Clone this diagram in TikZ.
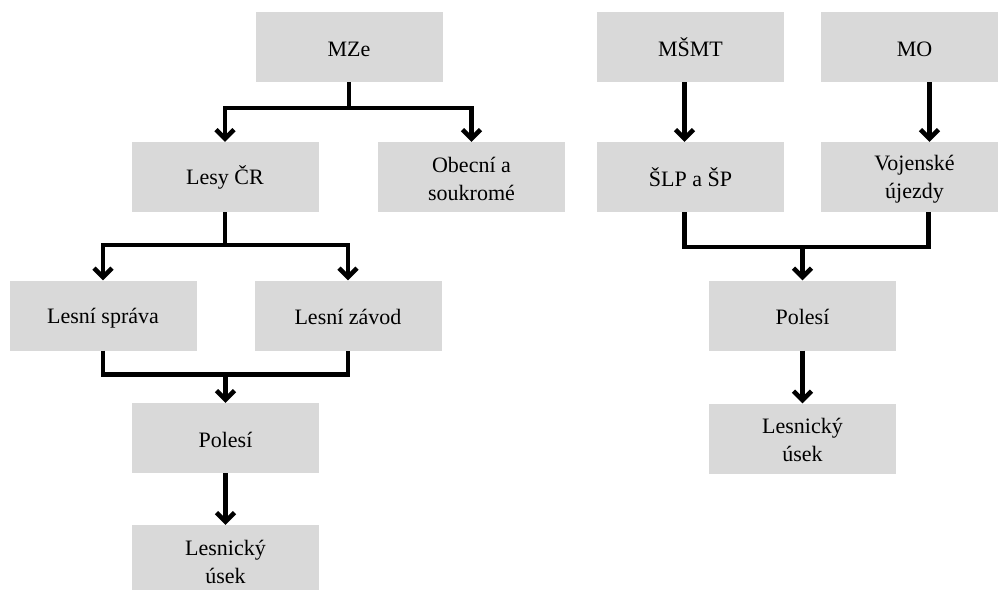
\documentclass[tikz,border=0pt]{standalone}
\usepackage{fontspec}
\setmainfont{Liberation Serif}
\usetikzlibrary{arrows.meta}
\definecolor{boxgray}{RGB}{217,217,217}
\newcommand\bxs{\vrule height 20pt depth 2pt width 0pt}
\begin{document}
\begin{tikzpicture}[x=1pt,y=-1pt,
  box/.style={fill=boxgray, draw=none, minimum width=187pt, minimum height=70pt,
    inner sep=0pt, align=center, font=\fontsize{22}{28}\selectfont},
  conn/.style={line width=4.5pt, line join=miter},
  arr/.style={conn, -{Straight Barb[length=9pt,width=18pt]}}]
\useasboundingbox (0,0) rectangle (998,589);
\fill[white] (0,0) rectangle (998,589);
% left tree
\node[box] (mze) at (349,47) {\bxs MZe};
\node[box] (lesy) at (225,177) {\bxs Lesy ČR};
\node[box] (obec) at (471.5,177) {\bxs Obecní a\\\bxs soukromé};
\node[box] (sprava) at (103,315.5) {\bxs Lesní správa};
\node[box] (zavod) at (348,315.5) {\bxs Lesní závod};
\node[box] (polL) at (225.5,438) {\bxs Polesí};
\node[box] (usekL) at (225.5,560) {\bxs Lesnický\\\bxs úsek};
% right tree
\node[box] (msmt) at (690.5,47) {\bxs MŠMT};
\node[box] (mo) at (914.5,47) {\bxs MO};
\node[box] (slp) at (690.5,177) {\bxs ŠLP a ŠP};
\node[box] (voj) at (914.5,177) {\bxs Vojenské\\\bxs újezdy};
\node[box] (polR) at (802.5,315.5) {\bxs Polesí};
\node[box] (usekR) at (802.5,438.5) {\bxs Lesnický\\\bxs úsek};
% left connectors
\draw[conn] (mze.south) -- ++(0,26) coordinate (j1);
\draw[arr] (j1) -| (lesy.north);
\draw[arr] (j1) -| (obec.north);
\draw[conn] (lesy.south) -- ++(0,33) coordinate (j2);
\draw[arr] (j2) -| (sprava.north);
\draw[arr] (j2) -| (zavod.north);
\draw[conn] (sprava.south) -- ++(0,24) coordinate (m1) -| (zavod.south);
\draw[arr] (m1 -| polL.north) -- (polL.north);
\draw[arr] (polL.south) -- (usekL.north);
% right connectors
\draw[arr] ([xshift=-6pt]msmt.south) -- ([xshift=-6pt]slp.north);
\draw[arr] ([xshift=15pt]mo.south) -- ([xshift=15pt]voj.north);
\draw[conn] ([xshift=-6pt]slp.south) -- ++(0,35) coordinate (m2) -| ([xshift=14pt]voj.south);
\draw[arr] (m2 -| polR.north) -- (polR.north);
\draw[arr] (polR.south) -- (usekR.north);
\end{tikzpicture}
\end{document}
